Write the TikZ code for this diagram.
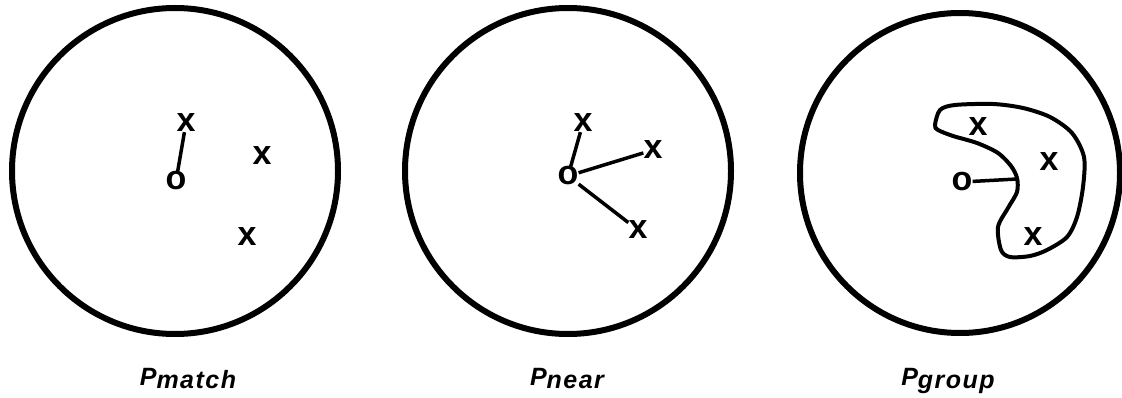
\documentclass[tikz,border=0pt]{standalone}
\usepackage{fontspec}
\newfontfamily\hv{Liberation Sans}
\newcommand{\sublab}[2]{{\hv\bfseries\itshape\fontsize{25}{28}\selectfont #1\raisebox{-3.5pt}{\addfontfeature{LetterSpace=6}#2}}}
\begin{document}
\begin{tikzpicture}[x=1pt,y=-1pt,
  ring/.style={draw=black,line width=6pt},
  mk/.style={inner sep=0pt,font=\hv\bfseries\fontsize{34}{34}\selectfont},
  conn/.style={draw=black,line width=3.5pt},
  blob/.style={draw=black,line width=4pt,line join=round},
  lab/.style={anchor=base,inner sep=0pt}]
\useasboundingbox (0,0) rectangle (1122,398);
% panel 1
\draw[ring] (175,171) circle (163);
\node[mk] (o1) at (176,181) {o};
\node[mk] (x1a) at (186,123) {x};
\node[mk] (x1b) at (262,156) {x};
\node[mk] (x1c) at (247,237) {x};
\draw[conn] (o1) -- (x1a);
\node[lab] (l1) at (188,385) {\sublab{P}{match}};
% panel 2
\draw[ring] (568,171) circle (163);
\node[mk] (o2) at (568,176) {o};
\node[mk] (x2a) at (583,123) {x};
\node[mk] (x2b) at (653,150) {x};
\node[mk] (x2c) at (638,230) {x};
\draw[conn] (o2) -- (x2a);
\draw[conn] (o2) -- (x2b);
\draw[conn] (o2) -- (x2c);
\node[lab] (l2) at (567,385) {\sublab{P}{near}};
% panel 3
\draw[ring] (960,173) circle (160);
\node[mk] (o3) at (962,182) {o};
\node[mk] (x3a) at (978,127) {x};
\node[mk] (x3b) at (1049,162) {x};
\node[mk] (x3c) at (1033,237) {x};
\draw[blob] plot[smooth cycle,tension=0.5] coordinates {
 (935,125) (940,110) (955,105) (993,104) (1023,108) (1050,117)
 (1072,133) (1084,157) (1083,187) (1077,217) (1067,237) (1047,250)
 (1030,256) (1010,257) (1001,250) (998,227) (1008,208) (1017,192)
 (1017,178) (1011,166) (998,153) (977,143) (953,136) (938,130)};
\coordinate (b3) at (1017,179);
\draw[conn] (o3) -- (b3);
\node[lab] (l3) at (948,385) {\sublab{P}{group}};
\end{tikzpicture}
\end{document}
